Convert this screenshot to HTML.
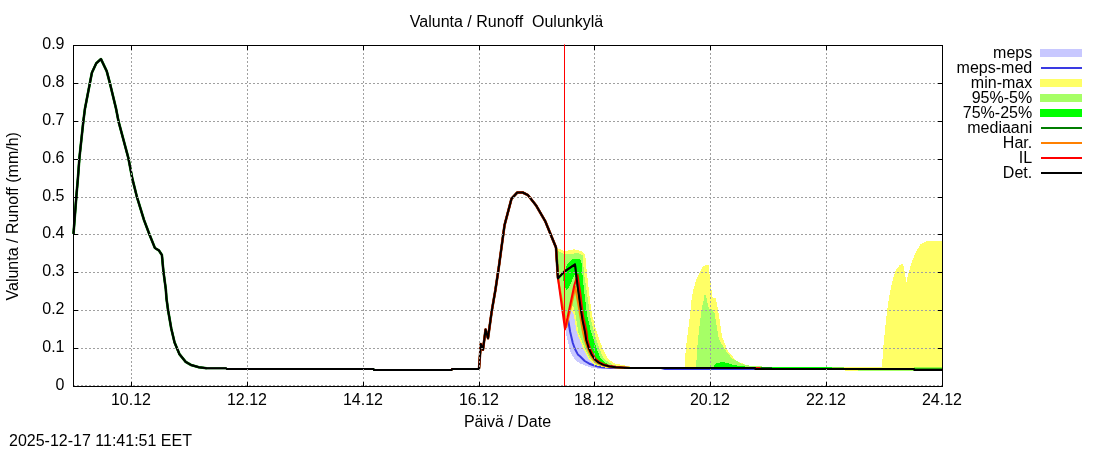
<!DOCTYPE html>
<html lang="fi"><head><meta charset="utf-8"><title>Valunta / Runoff Oulunkylä</title>
<style>html,body{margin:0;padding:0;background:#fff;overflow:hidden}svg text{font-family:"Liberation Sans",Arial,sans-serif}</style></head>
<body>
<svg width="1100" height="450" viewBox="0 0 1100 450" style="display:block" font-family="'Liberation Sans', Arial, sans-serif" font-size="16" fill="#000">
<rect width="1100" height="450" fill="#fff"/>
<polygon points="565.5,311.0 574.0,311.0 577.0,332.0 584.0,349.0 589.0,359.0 596.0,365.0 610.0,368.0 600.0,369.0 590.0,367.3 580.0,363.5 574.4,359.0 571.7,354.4 569.4,349.0 568.3,343.0 565.5,332.0" fill="#c8c8ff" shape-rendering="crispEdges"/>
<polyline points="566.8,312.0 567.5,316.0 568.3,321.0 570.2,332.0 572.8,343.0 575.0,349.0 577.8,354.4 580.0,356.3 584.7,361.0 589.3,363.7 595.6,366.0 601.8,367.2 611.0,368.1 619.0,368.0 661.0,368.0 665.0,369.0 755.0,369.0" fill="none" stroke="#3a3ae2" stroke-width="2" stroke-linejoin="round"/>
<polygon points="557.3,248.0 564.7,251.3 574.0,249.3 582.0,251.3 585.3,254.7 586.0,264.0 590.0,300.0 592.2,315.5 596.7,332.0 602.8,349.0 607.8,359.0 614.7,363.5 633.0,367.0 650.0,368.0 628.0,368.5 605.0,367.5 595.0,365.0 588.3,359.0 583.3,349.0 576.7,332.0 573.9,315.5 573.0,312.0 570.0,310.5 567.2,321.0 565.0,329.4 558.0,278.4" fill="#ffff66" shape-rendering="crispEdges"/>
<polygon points="684.5,368.0 685.9,348.0 688.8,325.0 690.0,315.0 691.3,301.7 693.3,289.7 696.7,278.3 700.0,271.7 702.7,267.0 705.3,265.0 708.7,265.0 709.3,272.3 711.3,288.3 712.7,297.7 715.7,297.7 717.3,305.7 718.7,313.7 722.0,336.7 727.8,351.0 736.5,361.0 748.0,365.6 760.0,367.5 790.0,368.0 790.0,369.0 684.5,369.0" fill="#ffff66" shape-rendering="crispEdges"/>
<polygon points="882.0,369.0 883.0,350.0 885.0,330.0 887.2,310.0 889.6,294.0 892.2,281.6 895.8,270.0 899.3,265.6 902.9,263.8 904.1,268.2 906.4,282.4 908.2,274.4 911.8,262.0 916.2,251.3 920.7,244.2 925.1,241.6 930.4,240.7 942.5,240.7 942.5,370.0 845.0,370.0 845.0,369.0" fill="#ffff66" shape-rendering="crispEdges"/>
<polygon points="557.5,250.5 564.7,254.5 578.7,253.0 582.7,255.5 584.0,273.3 588.0,300.0 590.0,315.5 593.9,332.0 599.4,349.0 604.0,359.0 612.0,364.5 625.0,367.5 640.0,368.0 607.0,367.5 597.0,365.0 590.0,359.0 585.0,349.0 578.3,332.0 575.6,315.5 574.0,308.0 571.0,305.0 568.0,312.0 565.0,322.0 558.5,279.0" fill="#a6ff66" shape-rendering="crispEdges"/>
<polygon points="696.0,368.0 697.5,345.0 698.9,331.0 701.8,307.8 703.3,301.7 704.7,294.0 706.0,295.0 707.3,301.7 708.7,308.3 712.0,309.7 714.7,313.7 716.0,322.0 719.0,339.6 725.0,349.7 732.0,358.4 742.0,364.0 754.0,366.5 770.0,367.5 845.0,368.0 845.0,369.0 696.0,369.0" fill="#a6ff66" shape-rendering="crispEdges"/>
<polygon points="562.4,277.0 567.3,264.0 573.0,258.7 579.8,258.7 581.6,263.0 582.4,273.8 584.7,296.0 587.2,315.5 591.1,332.0 596.7,349.0 601.0,359.0 608.0,364.5 620.0,367.5 630.0,368.0 612.0,367.5 602.0,364.5 594.0,359.0 589.4,349.0 584.0,332.0 580.4,315.5 579.0,305.0 577.6,290.0 576.0,278.0 574.4,275.0 571.8,281.0 568.7,288.0 566.4,289.8 564.7,286.0" fill="#00ff00" shape-rendering="crispEdges"/>
<polygon points="713.4,368.0 714.8,364.0 722.0,361.8 726.4,362.7 733.6,365.0 745.0,366.5 760.0,367.3 845.0,367.8 845.0,369.0 713.4,369.0" fill="#00ff00" shape-rendering="crispEdges"/>
<rect x="750" y="366" width="12.0" height="1.0" fill="#a6ff66"/>
<rect x="772" y="367" width="60.0" height="1.0" fill="#00ff00"/>
<rect x="832" y="367" width="12.0" height="1.0" fill="#80e840"/>
<rect x="760.5" y="367" width="11.5" height="1.0" fill="#007d00"/>
<rect x="755.4" y="367" width="5.1" height="1.0" fill="#ff0000"/>
<rect x="844" y="367" width="38.0" height="1.0" fill="#ffff66"/>
<rect x="845" y="370" width="13.0" height="1.0" fill="#ffff66"/>
<rect x="858" y="370" width="56.0" height="1.0" fill="#a6ff66"/>
<rect x="914" y="367.6" width="28.0" height="0.8" fill="#00ff00"/>
<rect x="914" y="368.3" width="28.0" height="0.7" fill="#007d00"/>
<polyline points="73.5,233.8 76.3,197.2 77.9,178.4 79.4,158.2 83.3,121.7 84.9,109.0 90.1,82.0 91.9,72.7 96.3,63.2 101.0,59.1 106.7,71.1 109.8,82.8 116.0,108.4 118.6,121.7 128.4,158.2 132.3,178.4 137.0,197.2 144.0,220.0 149.4,234.3 154.9,248.0 158.8,250.3 161.9,255.0 163.4,271.3 165.8,289.2 166.5,298.7 168.1,310.3 171.2,328.2 174.5,342.3 179.4,354.1 185.7,361.9 191.1,365.0 198.9,367.2 206.7,368.2 226.0,368.2 227.0,369.0 373.5,369.0 374.0,370.0 451.5,370.0 452.0,369.0 479.0,369.0 480.8,344.0 483.0,349.7 485.6,329.5 488.0,338.2 491.7,311.4 495.4,290.0 498.7,268.0 504.5,225.3 511.5,198.7 517.3,192.5 522.7,192.5 528.0,195.2 536.0,205.3 545.3,221.3 556.0,247.5 558.0,278.4 564.7,271.3 575.0,264.3 577.6,286.0 579.0,296.0 580.5,307.0 582.5,320.0 585.0,332.0 586.2,340.0 588.6,347.8 591.7,354.8 594.8,359.5 598.7,362.6 603.3,364.9 609.6,366.5 615.8,367.2 623.6,367.7 630.0,368.0 755.0,368.0 755.5,369.0 914.0,369.0 914.5,370.0 942.5,370.0" fill="none" stroke="#007d00" stroke-width="2" stroke-linejoin="round"/>
<polyline points="73.5,233.8 76.3,197.2 77.9,178.4 79.4,158.2 83.3,121.7 84.9,109.0 90.1,82.0 91.9,72.7 96.3,63.2 101.0,59.1 106.7,71.1 109.8,82.8 116.0,108.4 118.6,121.7 128.4,158.2 132.3,178.4 137.0,197.2 144.0,220.0 149.4,234.3 154.9,248.0 158.8,250.3 161.9,255.0 163.4,271.3 165.8,289.2 166.5,298.7 168.1,310.3 171.2,328.2 174.5,342.3 179.4,354.1 185.7,361.9 191.1,365.0 198.9,367.2 206.7,368.2" fill="none" stroke="#007d00" stroke-width="2.6" stroke-linejoin="round"/>
<polyline points="479.0,369.0 480.8,344.0 483.0,349.7 485.6,329.5 488.0,338.2 491.7,311.4 495.4,290.0 498.7,268.0 504.5,225.3 511.5,198.7 517.3,192.5 522.7,192.5 528.0,195.2 536.0,205.3 545.3,221.3 556.0,247.5 558.0,278.4" fill="none" stroke="#7a2a00" stroke-width="2.6" stroke-linejoin="round"/>
<polyline points="451.5,370.0 452.0,369.0 479.0,369.0 480.8,344.0 483.0,349.7 485.6,329.5 488.0,338.2 491.7,311.4 495.4,290.0 498.7,268.0 504.5,225.3 511.5,198.7 517.3,192.5 522.7,192.5 528.0,195.2 536.0,205.3 545.3,221.3 556.0,247.5 558.0,278.4 566.3,327.0 575.3,287.0 578.8,307.0 583.0,332.0 585.0,340.5 587.5,348.3 590.7,355.3 593.8,360.0 597.8,363.1 602.5,365.4 609.0,366.9 615.5,367.6 624.0,368.0" fill="none" stroke="#ff8000" stroke-width="2" stroke-linejoin="round"/>
<polyline points="451.5,370.0 452.0,369.0 479.0,369.0 480.8,344.0 483.0,349.7 485.6,329.5 488.0,338.2 491.7,311.4 495.4,290.0 498.7,268.0 504.5,225.3 511.5,198.7 517.3,192.5 522.7,192.5 528.0,195.2 536.0,205.3 545.3,221.3 556.0,247.5 558.0,278.4 565.0,329.4 574.4,285.0 577.5,275.0 580.7,296.0 582.9,315.5 586.6,332.0 587.3,339.5 589.6,347.3 592.6,354.3 595.6,359.0 599.4,362.1 604.0,364.4 610.2,366.1 616.5,367.0 624.0,367.6 630.0,368.0" fill="none" stroke="#ff0000" stroke-width="2" stroke-linejoin="round"/>
<polyline points="73.5,233.8 76.3,197.2 77.9,178.4 79.4,158.2 83.3,121.7 84.9,109.0 90.1,82.0 91.9,72.7 96.3,63.2 101.0,59.1 106.7,71.1 109.8,82.8 116.0,108.4 118.6,121.7 128.4,158.2 132.3,178.4 137.0,197.2 144.0,220.0 149.4,234.3 154.9,248.0 158.8,250.3 161.9,255.0 163.4,271.3 165.8,289.2 166.5,298.7 168.1,310.3 171.2,328.2 174.5,342.3 179.4,354.1 185.7,361.9 191.1,365.0 198.9,367.2 206.7,368.2 226.0,368.2 227.0,369.0 373.5,369.0 374.0,370.0 451.5,370.0 452.0,369.0 479.0,369.0 480.8,344.0 483.0,349.7 485.6,329.5 488.0,338.2 491.7,311.4 495.4,290.0 498.7,268.0 504.5,225.3 511.5,198.7 517.3,192.5 522.7,192.5 528.0,195.2 536.0,205.3 545.3,221.3 556.0,247.5 558.0,278.4 564.7,271.3 575.0,264.3 577.6,286.0 579.0,296.0 580.5,307.0 582.5,320.0 585.0,332.0 586.2,340.0 588.6,347.8 591.7,354.8 594.8,359.5 598.7,362.6 603.3,364.9 609.6,366.5 615.8,367.2 623.6,367.7 630.0,368.0 755.0,368.0 755.5,369.0 914.0,369.0 914.5,370.0 942.5,370.0" fill="none" stroke="#000000" stroke-width="2" stroke-linejoin="round"/>
<path d="M131.5,45V387M247.5,45V387M363.5,45V387M479.5,45V387M594.5,45V387M710.5,45V387M826.5,45V387M73,386.5H943M73,348.5H943M73,310.5H943M73,272.5H943M73,234.5H943M73,197.5H943M73,159.5H943M73,121.5H943M73,83.5H943" stroke="#a0a0a0" stroke-width="1" stroke-dasharray="2 2" fill="none"/>
<path d="M73,385.5H943" stroke="#808080" stroke-opacity="0.7" stroke-width="1" stroke-dasharray="2 2" fill="none"/>
<path d="M131.5,386.5v-4.5M131.5,45.5v4.5M247.5,386.5v-4.5M247.5,45.5v4.5M363.5,386.5v-4.5M363.5,45.5v4.5M479.5,386.5v-4.5M479.5,45.5v4.5M594.5,386.5v-4.5M594.5,45.5v4.5M710.5,386.5v-4.5M710.5,45.5v4.5M826.5,386.5v-4.5M826.5,45.5v4.5M942.5,386.5v-4.5M942.5,45.5v4.5M73.5,386.5h4.5M942.5,386.5h-4.5M73.5,348.5h4.5M942.5,348.5h-4.5M73.5,310.5h4.5M942.5,310.5h-4.5M73.5,272.5h4.5M942.5,272.5h-4.5M73.5,234.5h4.5M942.5,234.5h-4.5M73.5,197.5h4.5M942.5,197.5h-4.5M73.5,159.5h4.5M942.5,159.5h-4.5M73.5,121.5h4.5M942.5,121.5h-4.5M73.5,83.5h4.5M942.5,83.5h-4.5M73.5,45.5h4.5M942.5,45.5h-4.5" stroke="#000" stroke-width="1" fill="none"/>
<rect x="73.5" y="45.5" width="869.0" height="341.0" fill="none" stroke="#000" stroke-width="1"/>
<line x1="564.5" y1="44.4" x2="564.5" y2="386" stroke="#ff0000" stroke-width="1"/>
<text x="64.5" y="390.0" text-anchor="end">0</text>
<text x="64.5" y="352.0" text-anchor="end">0.1</text>
<text x="64.5" y="314.0" text-anchor="end">0.2</text>
<text x="64.5" y="276.0" text-anchor="end">0.3</text>
<text x="64.5" y="238.0" text-anchor="end">0.4</text>
<text x="64.5" y="201.0" text-anchor="end">0.5</text>
<text x="64.5" y="163.0" text-anchor="end">0.6</text>
<text x="64.5" y="125.0" text-anchor="end">0.7</text>
<text x="64.5" y="87.0" text-anchor="end">0.8</text>
<text x="64.5" y="49.0" text-anchor="end">0.9</text>
<text x="131.0" y="405" text-anchor="middle">10.12</text>
<text x="247.0" y="405" text-anchor="middle">12.12</text>
<text x="363.0" y="405" text-anchor="middle">14.12</text>
<text x="479.0" y="405" text-anchor="middle">16.12</text>
<text x="594.0" y="405" text-anchor="middle">18.12</text>
<text x="710.0" y="405" text-anchor="middle">20.12</text>
<text x="826.0" y="405" text-anchor="middle">22.12</text>
<text x="942.0" y="405" text-anchor="middle">24.12</text>
<text x="506.5" y="26.5" text-anchor="middle" xml:space="preserve">Valunta / Runoff  Oulunkylä</text>
<text x="507.5" y="427" text-anchor="middle">Päivä / Date</text>
<text transform="translate(17.5,216.3) rotate(-90)" text-anchor="middle">Valunta / Runoff (mm/h)</text>
<text x="9" y="445.5">2025-12-17 11:41:51 EET</text>
<text x="1032.2" y="57.5" text-anchor="end">meps</text>
<rect x="1040" y="49" width="42" height="8" fill="#c8c8ff"/>
<text x="1032.2" y="72.5" text-anchor="end">meps-med</text>
<line x1="1041" y1="68" x2="1082" y2="68" stroke="#3a3ae2" stroke-width="2"/>
<text x="1032.2" y="87.5" text-anchor="end">min-max</text>
<rect x="1040" y="79" width="42" height="8" fill="#ffff66"/>
<text x="1032.2" y="102.5" text-anchor="end">95%-5%</text>
<rect x="1040" y="94" width="42" height="8" fill="#a6ff66"/>
<text x="1032.2" y="117.5" text-anchor="end">75%-25%</text>
<rect x="1040" y="109" width="42" height="8" fill="#00ff00"/>
<text x="1032.2" y="132.5" text-anchor="end">mediaani</text>
<line x1="1041" y1="128" x2="1082" y2="128" stroke="#007d00" stroke-width="2"/>
<text x="1032.2" y="147.5" text-anchor="end">Har.</text>
<line x1="1041" y1="143" x2="1082" y2="143" stroke="#ff8000" stroke-width="2"/>
<text x="1032.2" y="162.5" text-anchor="end">IL</text>
<line x1="1041" y1="158" x2="1082" y2="158" stroke="#ff0000" stroke-width="2"/>
<text x="1032.2" y="177.5" text-anchor="end">Det.</text>
<line x1="1041" y1="173" x2="1082" y2="173" stroke="#000000" stroke-width="2"/>
</svg>
</body></html>
